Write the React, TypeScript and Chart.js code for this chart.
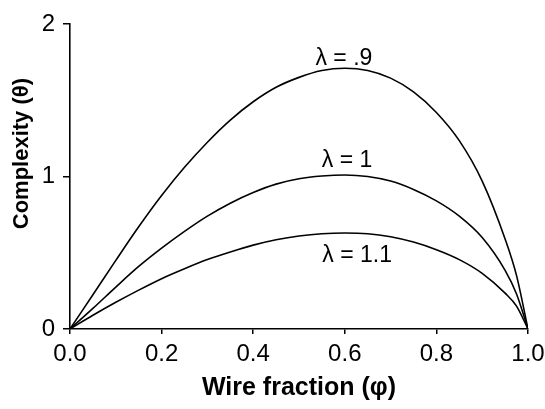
import React, { useEffect, useRef } from "react";
import { Chart, registerables } from "chart.js";

Chart.register(...registerables);

// Wire fraction (phi) sample positions
const phi = [0, 0.05, 0.1, 0.15, 0.2, 0.25, 0.3, 0.35, 0.4, 0.45, 0.5, 0.55, 0.6, 0.65, 0.7, 0.75, 0.8, 0.85, 0.9, 0.95, 0.975, 1.0];

// Complexity (theta) for each lambda
const thetaL09 = [0, 0.225, 0.45, 0.67, 0.875, 1.06, 1.225, 1.37, 1.49, 1.585, 1.65, 1.695, 1.71, 1.695, 1.645, 1.555, 1.42, 1.235, 0.97, 0.59, 0.35, 0];
const thetaL10 = [0, 0.135, 0.275, 0.41, 0.53, 0.64, 0.74, 0.825, 0.895, 0.95, 0.985, 1.003, 1.01, 1.0, 0.97, 0.915, 0.84, 0.74, 0.6, 0.385, 0.23, 0];
const thetaL11 = [0, 0.09, 0.175, 0.255, 0.33, 0.395, 0.455, 0.505, 0.55, 0.585, 0.61, 0.625, 0.63, 0.625, 0.605, 0.57, 0.52, 0.455, 0.365, 0.235, 0.15, 0];

// Curve labels (text and anchor in data coordinates)
const curveLabels = ["λ = .9", "λ = 1", "λ = 1.1"];
const curveLabelPhi = [0.598, 0.605, 0.627];
const curveLabelTheta = [1.73, 1.062, 0.44];

const xTicks = [0, 0.2, 0.4, 0.6, 0.8, 1.0];
const yTicks = [0, 1, 2];

const xTitle = "Wire fraction (φ)";
const yTitle = "Complexity (θ)";

const FONT = "'Liberation Sans', Arial, sans-serif";

const toPoints = (ys: number[]) => phi.map((x, i) => ({ x, y: ys[i] }));

const labelPlugin = {
  id: "curveLabels",
  afterDatasetsDraw(chart: any) {
    const { ctx, scales } = chart;
    ctx.save();
    ctx.fillStyle = "#000";
    ctx.font = `23px ${FONT}`;
    ctx.textAlign = "center";
    ctx.textBaseline = "alphabetic";
    curveLabels.forEach((t, i) => {
      const px = scales.x.getPixelForValue(curveLabelPhi[i]);
      const py = scales.y.getPixelForValue(curveLabelTheta[i]);
      ctx.fillText(t, px, py);
    });
    // y-axis title, placed a little above the axis middle as in the source
    ctx.font = `bold 22px ${FONT}`;
    ctx.textBaseline = "middle";
    ctx.translate(22, scales.y.getPixelForValue(1.15));
    ctx.rotate(-Math.PI / 2);
    ctx.fillText(yTitle, 0, 0);
    ctx.restore();
  },
};

export default function App() {
  const ref = useRef<HTMLCanvasElement>(null);
  useEffect(() => {
    if (!ref.current) return;
    const mk = (ys: number[]) => ({
      data: toPoints(ys),
      borderColor: "#000",
      borderWidth: 1.6,
      pointRadius: 0,
      fill: false,
      cubicInterpolationMode: "monotone" as const,
    });
    const chart = new Chart(ref.current, {
      type: "line",
      data: { datasets: [mk(thetaL09), mk(thetaL10), mk(thetaL11)] },
      options: {
        animation: false,
        responsive: false,
        layout: { padding: { left: 0, right: 17, top: 24, bottom: 0 } },
        plugins: { legend: { display: false }, tooltip: { enabled: false } },
        scales: {
          x: {
            type: "linear",
            min: 0,
            max: 1,
            afterBuildTicks: (s: any) => {
              s.ticks = xTicks.map((v) => ({ value: v }));
            },
            afterFit: (s: any) => {
              s.height = 80;
              s.paddingLeft = 0;
              s.paddingRight = 0;
            },
            ticks: {
              color: "#000",
              font: { family: FONT, size: 24 },
              padding: 6,
              maxRotation: 0,
              callback: (v: any) => Number(v).toFixed(1),
            },
            grid: { drawOnChartArea: false, drawTicks: true, tickLength: 5, color: "#000", lineWidth: 1.5 },
            border: { color: "#000", width: 1.6 },
            title: {
              display: true,
              text: xTitle,
              color: "#000",
              font: { family: FONT, size: 25, weight: "bold" },
              padding: { top: 0, bottom: 6 },
            },
          },
          y: {
            type: "linear",
            min: 0,
            max: 2,
            afterBuildTicks: (s: any) => {
              s.ticks = yTicks.map((v) => ({ value: v }));
            },
            afterFit: (s: any) => {
              s.width = 70;
              s.paddingTop = 0;
              s.paddingBottom = 0;
            },
            ticks: {
              color: "#000",
              font: { family: FONT, size: 24 },
              padding: 8,
              callback: (v: any) => String(v),
            },
            grid: { drawOnChartArea: false, drawTicks: true, tickLength: 7, color: "#000", lineWidth: 1.5 },
            border: { color: "#000", width: 1.6 },
            title: { display: false },
          },
        },
      },
      plugins: [labelPlugin],
    });
    return () => chart.destroy();
  }, []);
  return (
    <div style={{ position: "fixed", left: 0, top: 0, width: 545, height: 409, background: "#fff" }}>
      <canvas ref={ref} width={545} height={409} style={{ width: 545, height: 409 }} />
    </div>
  );
}
